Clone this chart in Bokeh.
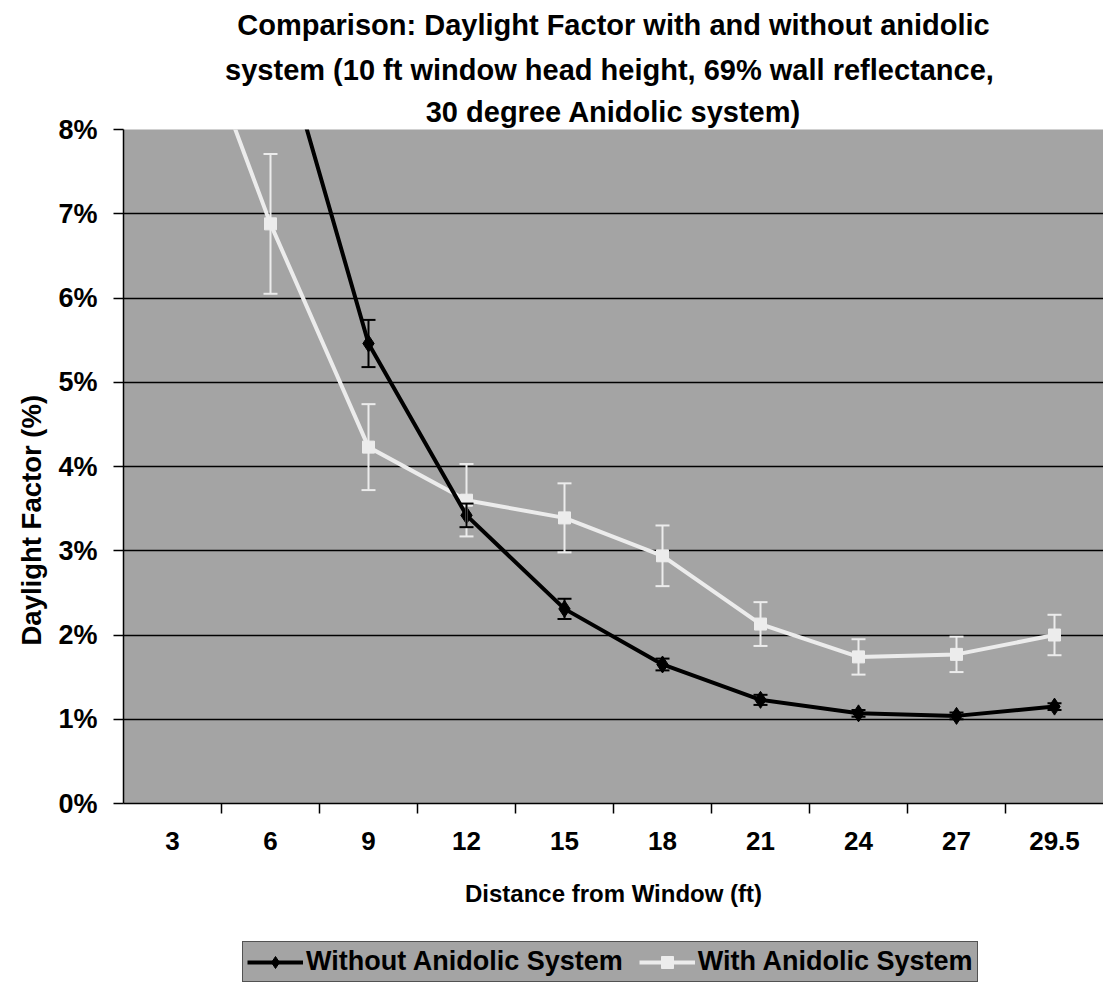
from bokeh.plotting import figure
from bokeh.layouts import column
from bokeh.models import (ColumnDataSource, Whisker, TeeHead, Legend, LegendItem,
                          CategoricalAxis, Range1d, FactorRange, FixedTicker, PrintfTickFormatter,
                          Title)
from bokeh.embed import file_html
from bokeh.resources import INLINE

# ---- data (Daylight Factor, %) ----
distances = ["3", "6", "9", "12", "15", "18", "21", "24", "27", "29.5"]
without_df = [13.0, 9.5, 5.46, 3.42, 2.31, 1.65, 1.23, 1.07, 1.04, 1.15]
without_err = [0.6, 0.4, 0.28, 0.14, 0.12, 0.07, 0.06, 0.04, 0.04, 0.04]
with_df = [10.0, 6.88, 4.23, 3.60, 3.39, 2.94, 2.13, 1.74, 1.77, 2.00]
with_err = [0.9, 0.83, 0.51, 0.43, 0.41, 0.36, 0.26, 0.21, 0.21, 0.24]
y_ticks = [0, 1, 2, 3, 4, 5, 6, 7, 8]
series_names = ["Without Anidolic System", "With Anidolic System"]

title_lines = ["Comparison: Daylight Factor with and without anidolic",
               "system  (10 ft window head height, 69% wall reflectance,",
               "30 degree Anidolic system)"]

FONT = "Liberation Sans"
PLOT_GRAY = "#a4a4a4"
WHITE_S = "#ececec"

src_wo = ColumnDataSource(dict(x=distances, y=without_df,
                               lo=[v - e for v, e in zip(without_df, without_err)],
                               hi=[v + e for v, e in zip(without_df, without_err)]))
src_w = ColumnDataSource(dict(x=distances, y=with_df,
                              lo=[v - e for v, e in zip(with_df, with_err)],
                              hi=[v + e for v, e in zip(with_df, with_err)]))

p = figure(x_range=FactorRange(*distances, range_padding=0), y_range=Range1d(0, 8),
           frame_width=980, frame_height=674, output_backend="svg", toolbar_location=None,
           x_axis_location=None, title=None,
           min_border_left=123, min_border_right=0,
           min_border_top=129, min_border_bottom=115,
           background_fill_color=PLOT_GRAY, border_fill_color="white")
p.outline_line_color = None

# title: three centred lines, nearest line added first
for txt, so in zip(reversed(title_lines), (4, 11, 11)):
    p.add_layout(Title(text=txt, align="center", text_font=FONT, text_font_size="29px",
                       text_font_style="bold", text_color="black", standoff=so), "above")

# y axis
p.yaxis.ticker = FixedTicker(ticks=y_ticks)
p.yaxis.formatter = PrintfTickFormatter(format="%d%%")
p.yaxis.minor_tick_line_color = None
p.yaxis.major_tick_out = 10
p.yaxis.major_tick_in = 0
p.yaxis.major_tick_line_color = "black"
p.yaxis.major_tick_line_width = 1.5
p.yaxis.axis_line_color = "black"
p.yaxis.axis_line_width = 1.5
p.yaxis.major_label_text_font = FONT
p.yaxis.major_label_text_font_size = "27px"
p.yaxis.major_label_text_font_style = "bold"
p.yaxis.major_label_text_color = "black"
p.yaxis.major_label_standoff = 16

p.add_layout(Title(text="Daylight Factor (%)", align="left", offset=158, text_font=FONT,
                   text_font_size="27.5px", text_font_style="bold", text_color="black",
                   standoff=18), "left")

p.ygrid.grid_line_color = "black"
p.ygrid.grid_line_width = 1.5
p.xgrid.grid_line_color = None

# x axis: tick marks between categories (boundary factors centred on the category borders)
boundaries = [a + "|" + b for a, b in zip(distances[:-1], distances[1:])]
p.extra_x_ranges = {"bounds": FactorRange(*boundaries, range_padding=0.5,
                                          range_padding_units="absolute")}
bx = CategoricalAxis(x_range_name="bounds",
                     major_label_text_font_size="0px", major_label_text_color=None,
                     major_tick_out=10, major_tick_in=0, minor_tick_line_color=None,
                     axis_line_color="black", axis_line_width=1.5,
                     major_tick_line_color="black", major_tick_line_width=1.5,
                     major_label_standoff=0)
p.add_layout(bx, "below")
cx = CategoricalAxis(axis_line_color=None, major_tick_line_color=None, minor_tick_line_color=None,
                     major_label_standoff=12, major_label_text_font=FONT,
                     major_label_text_font_size="26px", major_label_text_font_style="bold",
                     major_label_text_color="black",
                     axis_label="Distance from Window (ft)", axis_label_text_font=FONT,
                     axis_label_text_font_size="24px", axis_label_text_font_style="bold",
                     axis_label_text_color="black", axis_label_standoff=27)
p.add_layout(cx, "below")

# error bars
for src, col, sz in ((src_w, WHITE_S, 14), (src_wo, "black", 14)):
    w = Whisker(base="x", upper="hi", lower="lo", source=src, line_color=col, line_width=2,
                upper_head=TeeHead(size=sz, line_color=col, line_width=2),
                lower_head=TeeHead(size=sz, line_color=col, line_width=2), level="glyph")
    p.add_layout(w)

p.line("x", "y", source=src_w, line_color=WHITE_S, line_width=4)
p.scatter("x", "y", source=src_w, marker="square", size=12, fill_color=WHITE_S, line_color=WHITE_S)
p.line("x", "y", source=src_wo, line_color="black", line_width=4)
p.scatter("x", "y", source=src_wo, marker="diamond", size=17, fill_color="black", line_color="black")

# legend strip below the chart (hidden copies of the series, used only for the key)
q = figure(width=1103, height=65, output_backend="svg", toolbar_location=None,
           x_axis_location=None, y_axis_location=None, title=None,
           x_range=p.x_range, y_range=p.y_range, min_border=0,
           background_fill_color="white", border_fill_color="white")
q.outline_line_color = None
q.xgrid.grid_line_color = None
q.ygrid.grid_line_color = None
q.xgrid.visible = False
q.ygrid.visible = False
k1 = q.line("x", "y", source=src_wo, line_color="black", line_width=4, visible=False)
s1 = q.scatter("x", "y", source=src_wo, marker="diamond", size=17, fill_color="black",
               line_color="black", visible=False)
k2 = q.line("x", "y", source=src_w, line_color=WHITE_S, line_width=4, visible=False)
s2 = q.scatter("x", "y", source=src_w, marker="square", size=12, fill_color=WHITE_S,
               line_color=WHITE_S, visible=False)

legend = Legend(items=[LegendItem(label=series_names[0], renderers=[k1, s1]),
                       LegendItem(label=series_names[1], renderers=[k2, s2])],
                orientation="horizontal", location=(119, 1),
                background_fill_color=PLOT_GRAY, background_fill_alpha=1.0,
                border_line_color="black", border_line_width=1.5,
                label_text_font=FONT, label_text_font_size="27px", label_text_font_style="bold",
                label_text_color="black", glyph_width=56, glyph_height=30, spacing=16,
                padding=4, margin=0, label_standoff=3)
q.add_layout(legend)

layout = column(p, q, spacing=0)
open("out.html", "w").write(file_html(layout, INLINE))
